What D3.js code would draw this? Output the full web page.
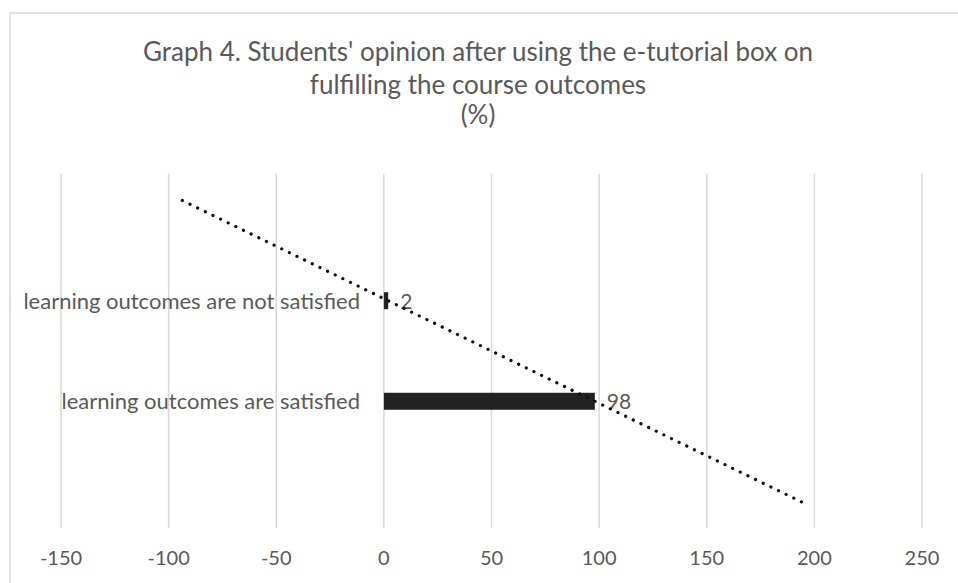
<!DOCTYPE html>
<html>
<head>
<meta charset="utf-8">
<script src="https://cdn.jsdelivr.net/npm/d3@7"></script>
<style>
  body { margin: 0; background: #fff; }
  svg text { font-family: Lato, "Open Sans", sans-serif; fill: #595959; }
</style>
</head>
<body>
<div id="chart"></div>
<script>
// chart data
const categories = ["learning outcomes are satisfied", "learning outcomes are not satisfied"];
const values = [98, 2];
const xTicks = [-150, -100, -50, 0, 50, 100, 150, 200, 250];
const titleLines = ["Graph 4. Students' opinion after using the e-tutorial box on", "fulfilling the course outcomes", "(%)"];
// linear trendline, forecast one category backward and forward
const trendForecast = [1, 1];

const W = 958, H = 583;
const svg = d3.select("#chart").append("svg")
    .attr("width", W).attr("height", H);

// chart border
svg.append("rect")
    .attr("x", 10).attr("y", 13).attr("width", W).attr("height", H)
    .attr("fill", "none").attr("stroke", "#d9d9d9").attr("stroke-width", 1.5);

// scales
const x = d3.scaleLinear().domain([-150, 250]).range([61, 922]);
// category index 1..n, first category at the bottom
const y = d3.scaleLinear().domain([-0.26, 3.26]).range([528, 174]);
const barH = 17;

// gridlines
svg.append("g").selectAll("line")
    .data(xTicks).enter().append("line")
    .attr("x1", d => x(d)).attr("x2", d => x(d))
    .attr("y1", y.range()[1]).attr("y2", y.range()[0])
    .attr("stroke", "#d9d9d9").attr("stroke-width", 1.5);

// x axis labels
svg.append("g").selectAll("text")
    .data(xTicks).enter().append("text")
    .attr("x", d => x(d)).attr("y", 565)
    .attr("text-anchor", "middle")
    .style("font-size", "20px")
    .text(d => d);

// bars
svg.append("g").selectAll("rect")
    .data(values).enter().append("rect")
    .attr("x", x(0))
    .attr("y", (d, i) => y(i + 1) - barH / 2)
    .attr("width", d => x(d) - x(0))
    .attr("height", barH)
    .attr("fill", "#222");

// category labels
svg.append("g").selectAll("text")
    .data(categories).enter().append("text")
    .attr("x", 360).attr("y", (d, i) => y(i + 1) + 8)
    .attr("text-anchor", "end")
    .style("font-size", "22px")
    .text(d => d);

// data labels
svg.append("g").selectAll("text")
    .data(values).enter().append("text")
    .attr("x", d => x(d) + 12).attr("y", (d, i) => y(i + 1) + 8)
    .style("font-size", "21px")
    .text(d => d);

// trendline (least squares on category index)
const idx = values.map((d, i) => i + 1);
const mx = d3.mean(idx), my = d3.mean(values);
const slope = d3.sum(idx, (k, i) => (k - mx) * (values[i] - my)) / d3.sum(idx, k => (k - mx) ** 2);
const icpt = my - slope * mx;
const i0 = 1 - trendForecast[0], i1 = values.length + trendForecast[1];
const trend = [i0, i1].map(k => ({ i: k, v: icpt + slope * k }));
svg.append("path")
    .datum(trend)
    .attr("fill", "none").attr("stroke", "#111").attr("stroke-width", 3.2)
    .attr("stroke-linecap", "round").attr("stroke-dasharray", "0.1 8.4")
    .attr("d", d3.line().x(d => x(d.v)).y(d => y(d.i)));

// title
svg.append("g").selectAll("text")
    .data(titleLines).enter().append("text")
    .attr("x", 478).attr("y", (d, i) => [61, 94, 124][i])
    .attr("text-anchor", "middle")
    .style("font-size", "26px")
    .text(d => d);
</script>
</body>
</html>
